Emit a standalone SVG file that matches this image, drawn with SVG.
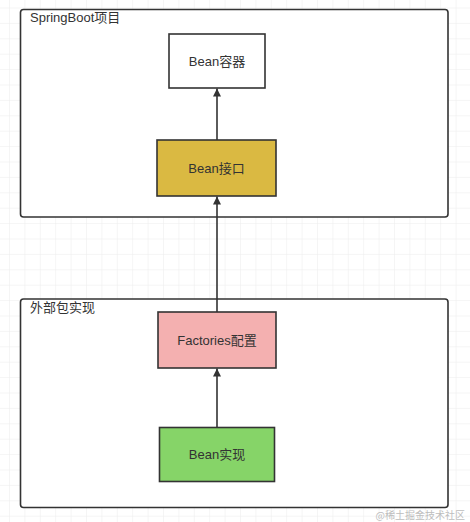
<svg xmlns="http://www.w3.org/2000/svg" width="470" height="522" viewBox="0 0 470 522">
<style>
.t{font-family:"Liberation Sans","Noto Sans CJK SC",sans-serif;font-size:13px;fill:#333}
.c{text-anchor:middle}
.box{stroke:#333;stroke-width:1.6}
.grp{fill:#fff;stroke:#333;stroke-width:1.6}
.edge{stroke:#333;stroke-width:1.6;fill:none}
</style>
<defs>
<pattern id="grid" x="9" y="7.5" width="15.4" height="15.4" patternUnits="userSpaceOnUse">
<path d="M0 0H15.4M0 0V15.4" fill="none" stroke="#ececec" stroke-width="1"/>
</pattern>
<marker id="arr" viewBox="0 0 10 10" refX="10" refY="5" markerWidth="11" markerHeight="8" markerUnits="userSpaceOnUse" orient="auto">
<path d="M0 0L10 5L0 10Z" fill="#333"/>
</marker>
</defs>
<rect width="470" height="522" fill="#fff"/>
<rect width="470" height="522" fill="url(#grid)"/>
<g id="group-springboot">
<rect class="grp" x="20.5" y="9.5" width="427.5" height="207.5" rx="3"/>
<text class="t" x="30" y="22">SpringBoot项目</text>
</g>
<g id="group-external">
<rect class="grp" x="20.5" y="299" width="427.5" height="208.5" rx="3"/>
<text class="t" x="30" y="312">外部包实现</text>
</g>
<g id="connectors">
<line class="edge" x1="217" y1="140" x2="217" y2="88.5" marker-end="url(#arr)"/>
<line class="edge" x1="217" y1="312" x2="217" y2="196.5" marker-end="url(#arr)"/>
<line class="edge" x1="217" y1="427.5" x2="217" y2="368.5" marker-end="url(#arr)"/>
</g>
<g id="bean-container">
<rect class="box" x="169" y="34" width="96" height="54" fill="#fff"/>
<text class="t c" x="217" y="65.5">Bean容器</text>
</g>
<g id="bean-interface">
<rect class="box" x="157" y="140" width="119" height="56" fill="#dab942"/>
<text class="t c" x="216.5" y="172.5">Bean接口</text>
</g>
<g id="factories-config">
<rect class="box" x="158" y="312" width="118" height="56" fill="#f4b0b0"/>
<text class="t c" x="217" y="344.5">Factories配置</text>
</g>
<g id="bean-impl">
<rect class="box" x="159.5" y="427.5" width="115" height="54" fill="#86d468"/>
<text class="t c" x="217" y="459">Bean实现</text>
</g>
<text x="465" y="519" text-anchor="end" style="font-family:'Noto Sans CJK SC',sans-serif;font-size:10px;fill:#bdbdbd">@稀土掘金技术社区</text>
</svg>
